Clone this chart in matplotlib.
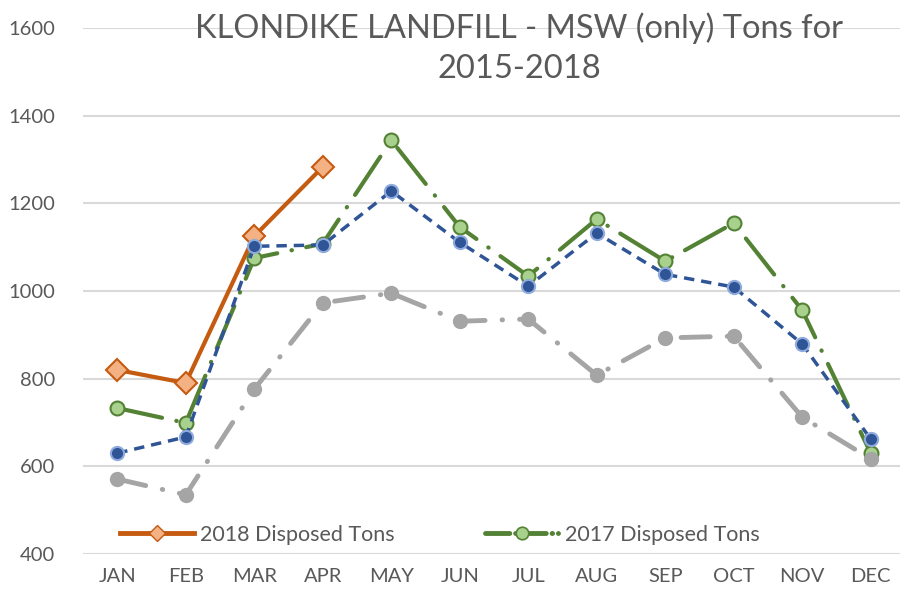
import matplotlib.pyplot as plt
from matplotlib.lines import Line2D

plt.rcParams['font.family'] = ['Lato', 'DejaVu Sans']

# data
months = ["JAN", "FEB", "MAR", "APR", "MAY", "JUN", "JUL", "AUG", "SEP", "OCT", "NOV", "DEC"]
tons_2018 = [820, 790, 1125, 1283]
tons_2017 = [733, 699, 1075, 1108, 1344, 1146, 1034, 1164, 1068, 1155, 956, 630]
tons_2016 = [630, 667, 1102, 1105, 1228, 1111, 1011, 1132, 1038, 1009, 879, 662]
tons_2015 = [571, 535, 776, 973, 995, 931, 936, 808, 893, 897, 712, 617]
yticks = [400, 600, 800, 1000, 1200, 1400, 1600]

txt = "#595959"
green_ls = (0, (11, 3.5, 0.1, 3.5))

fig = plt.figure(figsize=(9, 5.98), dpi=100)
ax = fig.add_axes([83/900, 44/598, 822/900, 526/598])

x = list(range(len(months)))

ax.plot(x[:len(tons_2018)], tons_2018, color="#C55A11", lw=3, marker="D", ms=11,
        mfc="#F4B183", mec="#C55A11", mew=1.5, zorder=3)
ax.plot(x, tons_2017, color="#548235", lw=3, ls=green_ls,
        dash_capstyle="round", marker="o", ms=10, mfc="#A9D18E", mec="#548235",
        mew=1.5, zorder=4)
ax.plot(x, tons_2016, color="#2F5597", lw=2.5, ls=(0, (3, 2)), marker="o", ms=9.5,
        mfc="#2F5597", mec="#8FAADC", mew=1.5, zorder=5)
ax.plot(x, tons_2015, color="#A5A5A5", lw=3.5, ls=(0, (6, 3.5, 0.1, 3.5)),
        dash_capstyle="round", marker="o", ms=10, mfc="#A5A5A5", mec="#A5A5A5", zorder=6)

ax.set_xlim(-0.5, 11.5)
ax.set_ylim(400, 1600)
ax.set_xticks(x)
ax.set_xticklabels(months)
ax.set_yticks(yticks)
ax.tick_params(length=0, labelsize=14.5, labelcolor=txt, pad=10)
ax.tick_params(axis="y", pad=20)
ax.yaxis.grid(True, color="#D9D9D9", lw=1.5)
ax.set_axisbelow(True)
for s in ax.spines.values():
    s.set_visible(False)

fig.text(519/900, 1 - 48/598, "KLONDIKE LANDFILL - MSW (only) Tons for\n2015-2018",
         ha="center", va="center", fontsize=23.5, color=txt, linespacing=1.4)

# legend shows only the first two series
h18 = Line2D([], [], color="#C55A11", lw=3.5, marker="D", ms=8,
             mfc="#F4B183", mec="#C55A11", mew=1)
h17 = Line2D([], [], color="#548235", lw=3.5, ls=(0, (5, 1.2, 0.1, 1.2)),
             dash_capstyle="round", marker="o", ms=9, mfc="#A9D18E", mec="#548235", mew=1.2)
fig.legend(handles=[h18, h17], labels=["2018 Disposed Tons", "2017 Disposed Tons"],
           loc="center", bbox_to_anchor=(440/900, 1 - 535/598),
           ncol=2, frameon=False, fontsize=15.5, labelcolor=txt, handlelength=3.4,
           columnspacing=4.2, handletextpad=0.3)

fig.savefig("out.png", dpi=100)
